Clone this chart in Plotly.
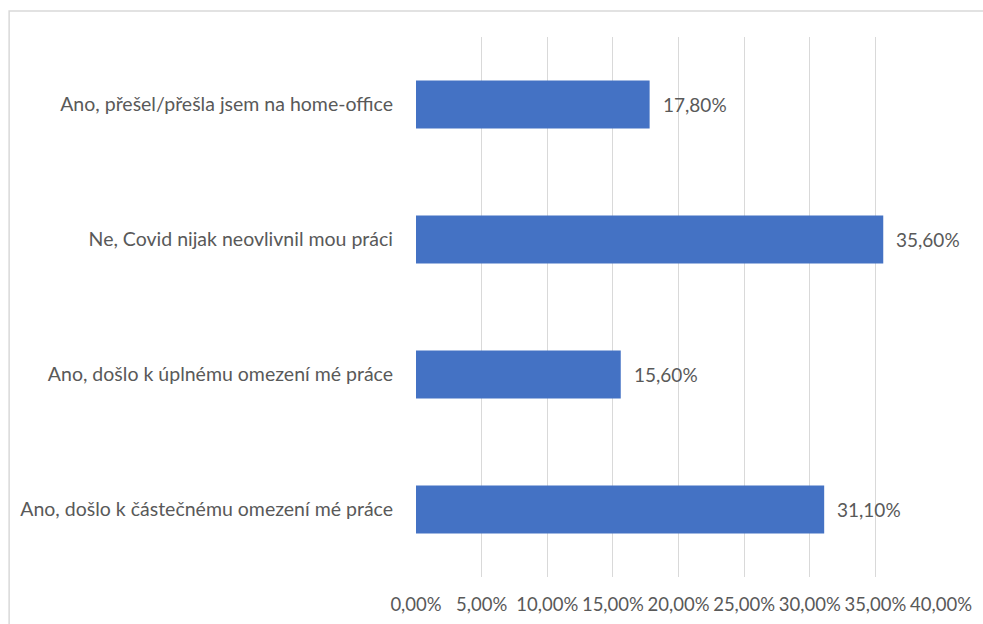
import plotly.graph_objects as go

# Survey answers (bottom to top in plotting order) and their shares
categories = [
    "Ano, došlo k částečnému omezení mé práce",
    "Ano, došlo k úplnému omezení mé práce",
    "Ne, Covid nijak neovlivnil mou práci",
    "Ano, přešel/přešla jsem na home-office",
]
shares = [0.311, 0.156, 0.356, 0.178]
x_ticks = [0.0, 0.05, 0.10, 0.15, 0.20, 0.25, 0.30, 0.35, 0.40]

text_color = "#595959"
grid_color = "#d9d9d9"
font_family = "Lato, Open Sans, sans-serif"

fig = go.Figure(
    go.Bar(
        x=shares,
        y=categories,
        orientation="h",
        marker=dict(color="#4472C4", line=dict(width=0)),
        hoverinfo="skip",
    )
)

# Value labels to the right of each bar
for cat, val in zip(categories, shares):
    fig.add_annotation(
        x=val, y=cat, xref="x", yref="y",
        text=f"{val*100:.2f}%".replace(".", ","),
        showarrow=False, xanchor="left", xshift=11,
        font=dict(size=19, color=text_color, family=font_family),
    )

# Thin frame around the chart area
fig.add_shape(
    type="rect", xref="paper", yref="paper",
    x0=-0.775, x1=1.2, y0=-0.2, y1=1.048,
    line=dict(color=grid_color, width=1.5), fillcolor="rgba(0,0,0,0)",
    layer="below",
)

fig.update_layout(
    width=983, height=624,
    margin=dict(l=416, r=42, t=37, b=47, autoexpand=False),
    plot_bgcolor="white", paper_bgcolor="white",
    separators=", ",
    bargap=0.645,
    showlegend=False,
    font=dict(family=font_family, size=19, color=text_color),
    xaxis=dict(
        range=[0, 0.40],
        tickvals=x_ticks,
        tickformat=".2%",
        tickangle=0,
        automargin=False,
        showgrid=True, gridcolor=grid_color, gridwidth=1,
        zeroline=False, showline=False,
        ticks="", ticklabelstandoff=14,
        tickfont=dict(size=18.5, color=text_color),
        fixedrange=True,
    ),
    yaxis=dict(
        automargin=False,
        showgrid=False, zeroline=False, showline=False,
        ticks="", ticklabelstandoff=22,
        tickfont=dict(size=19.5, color=text_color),
        fixedrange=True,
    ),
)

fig.write_html("out.html")
